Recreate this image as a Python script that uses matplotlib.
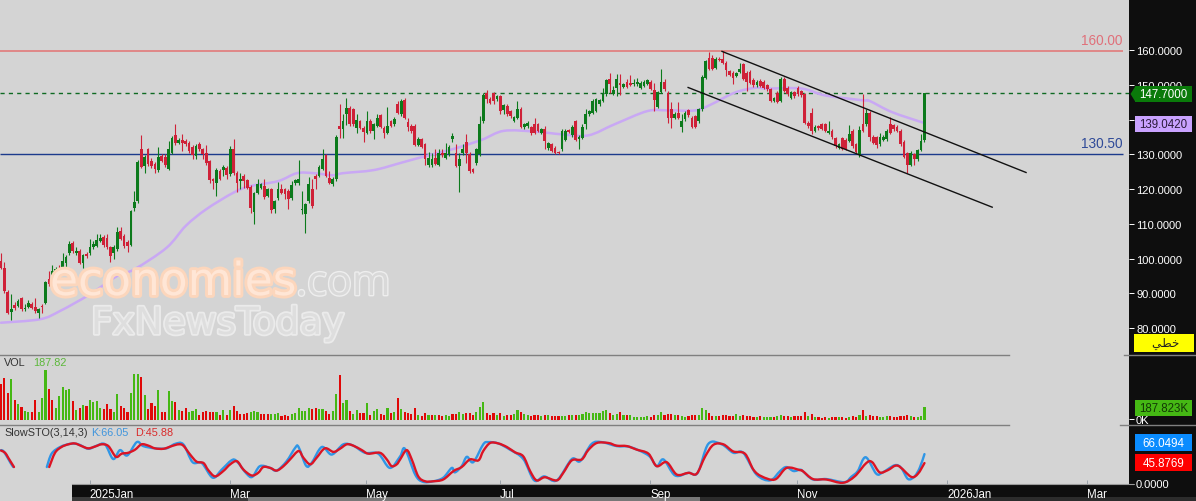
import numpy as np
import matplotlib
matplotlib.use('Agg')
import matplotlib.pyplot as plt
import matplotlib.patheffects as pe
from matplotlib.lines import Line2D
from matplotlib.patches import PathPatch, Polygon, Rectangle
from matplotlib.path import Path

opens = [99.3,97.4,90.4,84.6,86.5,86.3,88.7,85.4,86.1,86.8,
86.1,84.4,86.3,87.3,94.2,92.6,96,97,97.4,98.8,
101.5,104.6,101.5,102.2,98.8,101.2,101.5,103.2,103.7,105.1,
106.2,106,103.2,101.5,102.8,107.9,106.5,104.8,103.8,114.7,
116.5,131.6,126.7,131.5,128.1,127.2,125.5,129.6,129.4,125.9,
130.5,135.5,133.4,134.2,133.9,133.4,132.1,129.5,133.1,131.5,
130.5,128.1,122.8,121.9,125.2,125.5,126.2,124.3,131.6,124.7,
122.3,123.8,122.6,120.7,113.5,119,120.4,120.9,118,119.9,
114.2,117.5,119.9,119.9,119.5,117.5,121.7,121.7,113.9,112.7,
116.5,119.9,123.8,123.8,125.9,129.7,123.3,121.4,122.8,138.2,
137.2,141.6,143.5,143,137.7,139.6,137.7,136.3,139.6,136.8,
138.2,141.3,137.7,136.3,139.6,138.7,144.6,141.6,145.7,139.3,
138.2,138.2,132.7,134.4,132.9,126.9,126.9,129.1,127,130.5,
129.1,130,134.5,130.3,126.7,130.3,133.7,130.2,125.7,127.4,
130,139.6,147.8,146.1,147.6,145.9,146.8,142.7,144,142.5,
139.6,140.6,143.2,137.9,138.2,137.9,138.7,138.7,136.3,137.2,
131.8,132.9,132,130.7,131.5,134.2,137,135.5,139.6,134.5,
134.8,138.7,141.6,142,142.5,144.4,145.4,147.3,151.7,147.5,
149.2,150.7,149.5,150.9,150.7,150.2,150.2,149.2,149.7,150.4,
151,148.6,143.7,148.1,150.9,147.8,143,140.6,142,138,
140.1,142.8,140.6,141.1,139.6,143,152.1,157.9,157.9,155,
157.6,157.6,156.4,154,153.6,152.6,153.8,156,153.6,153.9,
151.5,149.9,151.2,151,149.9,148.8,145.4,147.8,145.4,151.8,
149.2,146.4,148,149.2,148.3,147.3,139.1,142,136.8,138.2,
138.7,138.7,136.3,136.8,134.6,132,134.6,134.2,133.9,136.8,
132.9,129.8,138.7,138.7,142,135.1,134.9,132.9,134.2,134.4,
138.7,138.4,138,136.8,133.7,130.3,127.1,130,128.6,131.3,
134.3]
highs = [101.7,99,91,89.7,87.5,88.3,89,86.8,88,87.5,
88.7,85.8,86.8,93.5,96.4,98,97.5,98,101.7,101,
105,105,103.2,102.7,101.3,102,105.5,105,107.2,107,
106.7,107.2,103.7,103.8,109.1,109,107,105.3,114,119.6,
128.3,135.5,129.8,132,129,127.7,132.2,130,130,133.9,
135.2,138.7,134.7,135.8,134.4,133.9,132.6,132.9,133.6,132,
132.7,128.5,123.2,126,125.7,127,126.7,132.4,134.5,125.2,
124.7,124.3,123,121.2,119.3,123,121.9,123,120.4,120.4,
117,122,121.4,120.3,120,122.3,123,128.3,119.6,116,
123.6,122.8,124.3,127,131.6,130.2,125.2,123.4,135.5,144.6,
141.6,146.4,144,143.4,141.6,140,138.2,142.5,140.3,139,
141.6,141.8,138.2,143.8,140,140.8,145.4,145.9,146.2,140.6,
138.7,138.7,135.1,134.8,133.3,130.7,130.5,131.5,131.5,131.5,
133.4,132.6,136.1,132.9,130.3,132.9,135.8,130.6,126.2,132,
141.1,147.8,148.6,146.5,148,147.2,147.2,144.6,144.4,142.9,
141.2,145.4,143.6,139,139.6,138.3,140.6,139.1,137.7,138.2,
133.6,133.3,132.4,131,137.2,137.2,137.4,138.4,140,135.5,
138.7,143.2,142.8,145.9,146.3,146.1,149.2,151.7,153.6,149.7,
153.1,153.1,150.6,151.6,152.8,151.8,152.1,151.1,151.4,151.8,
151.4,150.7,148.3,154.7,151.8,148.3,145.1,142.2,145.1,141.6,
142.4,143.2,141,141.5,143.4,152.8,157.2,159.5,158.8,158,
158,159.8,156.8,154.4,154,153.8,156.4,156.4,154,154.3,
151.9,151.4,151.6,151.4,150.3,149.2,146.6,148.2,152.2,152.4,
149.6,148.4,148.4,149.6,148.7,147.7,139.5,143.5,138.4,138.6,
139.1,139.1,139.6,137.2,135,133.3,135,134.6,138.4,137.2,
133.3,138.2,147.5,143.2,142.4,135.5,135.3,136.3,135.5,137.4,
140.9,138.8,138.4,137.2,134.1,130.7,130.9,130.4,131.7,135.8,
147.7]
lows = [96.9,90.1,84,82.3,85.3,85.9,85,85,85.8,85.5,
84.4,83,84.4,87,92,91.5,94,92,96.5,97.4,
101,101.7,101,98.3,97.4,100.2,101,102.7,103.2,104.7,
103.3,102.7,99,99.8,102.3,105.2,103,101.9,103.5,113.7,
116,126,124.6,126.8,126.2,124.6,125,127.7,126.5,125.5,
130,132.8,133,131,132.5,130.5,128.6,128.6,131,128.6,
127,121.9,120,118,122.5,123.8,122.8,123.9,124.2,119.2,
120,120.4,120,113.2,109.9,118.6,120,117.2,117.6,113.2,
113.2,117,118.5,117.1,114.4,117,121.3,121.3,112.7,107.5,
116,114.7,120,123.4,125.5,123.4,121.5,120.9,122.4,134.8,
134.8,138.4,138.2,138.2,136.3,137.2,133.6,135.8,136.3,134.4,
137.8,137.5,134.8,135.9,137.8,138.2,141.6,141.2,140.2,136.8,
136.3,132.3,132.3,131.8,126.9,126.5,126.5,126.9,126.6,129.3,
128.7,129.5,133.6,126.3,119.2,129.9,127.6,124.6,124.6,127.1,
129.6,139.2,144.9,144.5,144.4,145.5,141.6,141.6,141.2,140.6,
139.3,140.2,137.6,137.4,137.7,135.5,135.8,136.4,135.9,131.7,
131.4,130.6,130.1,130.2,131.1,133.8,136.1,135.1,133.8,131.5,
134.4,137.2,141.2,141.6,142.1,144,145,146.9,147.8,147.1,
146.8,147,149.1,149.1,149.6,149.8,149.8,148.8,149.3,150,
148.6,142.5,143.3,147.7,148.4,139.2,137.5,140.2,140.2,136.5,
139.7,140.9,137.6,137.6,139.2,142.6,151.7,154.3,154.3,154.6,
156.8,156,152.6,152.5,150.2,152.2,153.4,151.4,148.3,150.3,
149.5,149.5,149.3,148.8,148.4,145,145,144.7,145,147.9,
146.9,146,146.4,146.9,146.7,138.7,137.7,135.8,136.4,137.1,
137,136.4,135.9,134.5,132,131.6,131.3,131.3,133.5,132,
130.4,129.4,136.4,138.3,133.9,133,132,132.5,133.8,134,
135.9,136.8,136.5,132.5,129,124.7,126.7,127.1,128.2,130.9,
133.5]
closes = [97.4,90.6,84.4,85.6,85.8,87.8,85.4,85.8,87.1,85.8,
84.9,85.4,86,93.2,92.6,96.4,97,93.5,99.3,100.5,
104.1,102.2,102.2,98.8,100.9,100.7,103.2,104.1,105.4,106,
103.8,103.2,100.7,103.3,107.6,105.7,103.6,103.6,113.6,116.3,
127.9,126.5,129.4,127.2,126.7,125.9,129.3,128.1,127,131.5,
134.8,133.2,134.2,133.4,132.9,131,129.7,132.4,131.5,130,
127.4,122.6,122.3,125.5,123,126.5,124,131.6,124.7,121.9,
122.8,122.3,120.4,114.7,118.8,121.4,121.4,117.7,119.9,114,
116.6,119.9,119,118.5,117.1,121.1,122.6,122.8,114.2,115.6,
121.4,115.1,122.8,126.5,128.8,123.8,121.9,123,135.1,137.2,
139.6,143.5,138.7,138.7,139.9,137.7,136.5,139.6,136.8,138.7,
140.6,138,136.3,138.2,138.2,140.3,142,145.4,140.6,138,
136.9,132.7,134.5,132.2,128.6,129.1,128.8,127.3,130.3,129.7,
130.5,132.2,135.3,126.7,128.6,131.5,130.3,125.2,125,131.6,
138.7,147.1,145.9,144.9,145.4,146.8,142.5,144.2,141.6,141.1,
140.8,143,138,138.7,139,136.1,136.3,136.8,137.2,133.9,
133.2,131,130.5,130.5,136.8,136.8,136.5,138,134.2,135.1,
138,141.8,142.4,145.4,145.9,145.7,147.3,151.5,150.2,148.6,
151.7,149.9,150.2,149.5,150,150.7,151,150.7,151,151.5,
149,145.7,148.1,150.9,148.8,140.6,140.6,141.8,140.6,139.6,
142,141.3,138,138,143,152.4,156.9,154.7,154.7,157.6,
157.2,156.4,154.3,152.9,152.1,153.4,154.7,151.8,151,150.7,
149.9,151,149.7,149.2,148.8,145.4,146.2,145.1,151.8,148.3,
147.3,148,146.8,147.3,147.1,139.1,138.2,136.8,138,137.5,
137.4,136.8,136.8,134.9,132.4,132.9,131.7,131.7,135.8,132.4,
130.8,137,136.8,142,134.9,133.4,132.7,135.1,135.1,136.8,
136.3,137.2,136.9,132.9,129.4,127.1,130.5,128.6,131.3,133.9,
147.7]

volumes = [518,605,389,590,288,230,192,125,110,120,
288,120,317,725,446,288,173,350,470,437,
446,269,144,168,216,206,288,264,274,173,
154,230,158,110,374,206,173,115,389,662,
662,619,360,158,245,206,432,115,110,413,
278,254,144,130,168,120,125,158,77,110,
130,110,115,120,77,149,77,144,202,125,
86,86,101,110,125,110,82,86,82,91,
86,101,62,67,62,86,96,173,125,134,
168,163,168,158,158,134,86,134,374,648,
245,288,130,86,144,96,106,245,77,134,
158,86,77,173,96,110,317,158,110,101,
86,173,72,62,96,77,72,72,72,53,
72,62,86,91,110,91,101,101,77,120,
182,264,101,77,101,77,101,62,67,67,
86,144,110,86,77,62,72,67,58,72,
67,58,58,53,62,62,67,77,77,67,
82,120,101,106,106,96,125,149,101,72,
91,115,72,67,72,48,48,48,48,58,
48,72,67,115,77,86,86,67,72,58,
48,58,72,77,67,173,149,101,62,62,
53,67,67,53,62,82,62,67,62,58,
48,48,53,48,48,48,48,62,67,58,
62,48,58,53,53,110,62,86,43,38,
34,43,34,48,48,43,43,34,43,62,
48,72,149,62,72,53,53,43,48,62,
62,48,48,53,62,72,53,43,38,53,
187.82]
vol_dirs = ("rrrgrgrggr" "rgggrrgggg" "grgrgrgggg" "rrrggrrrgg" "grgrrrgrrg"
            "grgrrgggrr" "rrrgrgrgrr" "rrrgggrrrg" "ggrrrggggg" "grrggrrggr"
            "ggrggrrgrg" "grrgrgrgrr" "rrgrrgrgrr" "ggrrggrrrg" "ggrrrgrgrr"
            "ggrggrrrgr" "grrrggrgrg" "ggggggggrg" "grgrgggggg" "rrggrrrgrg"
            "grrrgggrrg" "rrrrrggrrr" "rgrgggrggr" "rgrrrrgrgr" "rrgrrgrrgr"
            "rgrgrrrggg" "rrrrrrgrgg" "g")

ma_idx = [0,11.4,17.3,26,34,39,48.4,54,60,68,73,81,86.5,91.5,97,100,109,117,124,132,
          140.5,147,156,164,171.7,179.4,189,195,203,207.6,214.5,220.5,224,234,241,252,254,260.5,270]
ma_vals = [81.5,82.5,84.9,89.7,95,96.9,103.1,109.4,114.2,119,120.9,122.3,124.6,124.6,124,124.6,125.5,127.6,129.5,131.5,
           134.2,136.8,136.6,135.8,135.5,138.7,142.5,142.7,142.7,144.4,147.8,149.2,149,149,147,145.6,145.4,142.2,139.04]

k_idx = [0,0.9,2.8,3.6,np.nan,13.4,14.8,17.3,20.2,22.6,25.5,28,30.4,32.8,34.8,36.9,39.7,41.6,45,48.4,50.9,53.3,56,58.7,61.9,64.5,
         67.4,68.9,71.8,73.5,75.7,78.7,80.6,83.5,86,87,89.2,90.8,93.8,96.7,100.1,103,106.4,110.3,113.7,116.7,
         118.1,121.1,123.3,126.4,129.3,131.8,132.7,134.7,136.2,138.1,141,142.5,145.4,148.8,152.7,155.9,158.8,162.5,166.9,169.3,172.7,175.6,
         180,183.9,189.3,191.7,193.7,197.1,201,203.7,206.8,210.7,214.1,217,220.9,224.9,227.8,229.6,231.7,233.6,
         234.4,237.4,241.3,246.6,248.6,250.5,252.8,255.9,257.8,261.3,263.2,265.2,267.1,268.6,270]
k_vals = [75,71,46,37,np.nan,37,67,82,89,88,78,85,88,55,75,63,93,84,79,79,89,88,48,46,13,31,
          52,50,22,15,39,35,29,50,80,82,40,46,82,65,88,85,69,67,35,61,
          78,20,4,5,13,35,25,39,60,48,88,93,90,76,55,7,16,7,55,50,89,93,
          84,82,63,39,54,18,24,24,89,88,69,69,20,7,28,37,28,31,
          28,9,10,3,15,28,59,22,25,41,35,10,16,35,66.05]
d_idx = [0,1.2,2.1,3.8,np.nan,14.1,15.8,17.7,19.7,21.6,23.6,25.5,27.5,29.4,31.4,33.6,35.3,37.2,39.2,41.1,43.1,45,47.5,49.9,51.9,53.3,
         55.3,57.2,59.2,60.6,62.6,65,67,69,70.9,73.3,75.2,76.7,78.7,80.6,82.6,84.5,87,88.4,90.4,92.3,94.7,97.2,99.1,101.1,103,105.5,107.4,
         110.8,112.8,114.2,115.7,116.7,118.6,120.1,122,124,126.4,129.3,132.3,134.7,137.1,139.6,141,143,145.4,147.9,150.3,152.7,154.7,156.6,
         159,162.5,164.4,166.9,169.8,171.7,174.2,177.6,180,183,185.9,189.3,191.7,194.6,197.6,201,203.4,205.9,208.3,211.2,214.1,217.5,220,222.4,226.3,229.7,233.6,
         234.4,237.4,241.3,246.1,249.6,253,254.7,256.9,259.3,262.2,266.1,268.1,270]
d_vals = [74,69,58,37,np.nan,37,69,82,88,90,84,79,83,88,84,60,67,69,76,88,85,79,78,84,88,85,
          65,49,46,30,16,28,43,50,31,18,24,37,35,29,39,54,73,58,43,58,79,71,78,88,85,75,67,
          69,54,39,43,54,75,54,16,5,5,9,28,37,54,52,73,91,90,82,70,61,28,7,
          14,7,24,52,54,75,91,91,85,84,76,67,39,48,20,24,22,61,87,88,72,67,31,16,9,35,30,
          28,10,9,1.5,16,46,48,25,30,40,15,22,45.88]

upper_idx = [210.8,299.7]
upper_vals = [159.7,124.8]
lower_idx = [200.9,289.8]
lower_vals = [149.3,114.8]

price_ticks = [80,90,100,110,120,130,140,150,160]
month_idx = [26,67,106.7,145.9,189.8,232.7,276.6,317.5]
month_labels = ['2025Jan','Mar','May','Jul','Sep','Nov','2026Jan','Mar']

W, H = 1196, 502
BG = '#d4d4d4'
STRIP = '#0e0e0e'
UP = '#0c7a1c'
DOWN = '#cf2138'
plt.rcParams['font.family'] = ['Liberation Sans', 'DejaVu Sans']


def fx(x):
    return x / W


def fy(y):
    return 1 - y / H


def panel(top, bottom):
    ax = fig.add_axes([0, fy(bottom), 1129 / W, (bottom - top) / H])
    ax.patch.set_visible(False)
    for s in ax.spines.values():
        s.set_visible(False)
    ax.set_xlim(-0.292, 329.8)
    ax.yaxis.tick_right()
    ax.tick_params(axis='y', colors='white', length=3.6, width=0.7, pad=1.5, labelsize=8)
    ax.tick_params(axis='x', bottom=False, labelbottom=False)
    return ax


def box(x0, y0, x1, y1, color, z=2):
    fig.add_artist(Rectangle((fx(x0), fy(y1)), (x1 - x0) / W, (y1 - y0) / H, transform=fig.transFigure,
                             facecolor=color, edgecolor='none', zorder=z))


def tag(y0, y1, color, label, text_color):
    box(1135, y0, 1192, y1, color)
    fig.text(fx(1163.5), fy((y0 + y1) / 2 + 0.3), label, color=text_color, fontsize=8.3, ha='center', va='center', zorder=3)


def curve(ax, xs, ys, **kw):
    # rounded line through the read points, one bezier per gap, NaN breaks the line
    xs = np.array(xs, float)
    ys = np.array(ys, float)
    gaps = np.flatnonzero(np.isnan(xs))
    for seg in np.split(np.arange(len(xs)), gaps):
        seg = seg[~np.isnan(xs[seg])]
        p = np.column_stack([xs[seg], ys[seg]])
        verts = [p[0]]
        codes = [Path.MOVETO]
        for i in range(len(p) - 1):
            a = p[max(i - 1, 0)]
            d = p[min(i + 2, len(p) - 1)]
            verts += [p[i] + (p[i + 1] - a) / 6, p[i + 1] - (d - p[i]) / 6, p[i + 1]]
            codes += [Path.CURVE4] * 3
        ax.add_patch(PathPatch(Path(verts, codes), fill=False, capstyle='round', joinstyle='round', **kw))


fig = plt.figure(figsize=(W / 100, H / 100), dpi=100, facecolor=BG)

# black strips sit behind the panels
box(1129, 0, W, H, STRIP, z=-1)
box(72, 485, 1129, 498, STRIP, z=-1)
box(72, 498, 248, H, '#3a3a3a', z=-1)
box(248, 498, 700, H, '#777777', z=-1)
box(700, 498, W, H, '#2c2c2c', z=-1)
fig.add_artist(Line2D([fx(72), fx(1133)], [fy(484.7), fy(484.7)], color='#9a9a9a', lw=0.8, zorder=1))

for yy, spans in ((356, [(0, 1009), (1124, W)]), (426, [(0, 1009), (1120, W)])):
    for a, b in spans:
        fig.add_artist(Line2D([fx(a), fx(b)], [fy(yy), fy(yy)], color='#808080', lw=1.0, zorder=1))

# price panel
ax = panel(0, 356)
ax.set_ylim(72.2, 174.8)
x = np.arange(len(closes))
o = np.array(opens)
c = np.array(closes)
colors = [UP if b >= a else DOWN for a, b in zip(opens, closes)]
ax.hlines(159.8, -0.3, 328, color='#e27a7a', lw=1.2, zorder=1)
ax.hlines(130.2, -0.3, 328, color='#1c3a8c', lw=1.0, zorder=1)
ax.plot([-0.3, 329.8], [147.6, 147.6], color='#0e6a22', lw=1.0, dashes=(3.0, 3.0), zorder=1)
curve(ax, ma_idx, ma_vals, edgecolor='#c9a8f4', lw=1.8, zorder=2)
ax.vlines(x, lows, highs, colors=colors, lw=0.8, zorder=3)
ax.bar(x, np.abs(c - o), bottom=np.minimum(o, c), width=0.8, color=colors, linewidth=0, zorder=3)
ax.plot(upper_idx, upper_vals, color='#111111', lw=1.0, zorder=4)
ax.plot(lower_idx, lower_vals, color='#111111', lw=1.0, zorder=4)
ax.text(328, 161.0, '160.00', color='#e0707a', fontsize=9.8, ha='right', va='bottom')
ax.text(328, 131.3, '130.50', color='#2f4a98', fontsize=9.8, ha='right', va='bottom')
ax.set_yticks(price_ticks)
# the 139 tag hides the 140 label in the reference
ax.set_yticklabels(['' if t == 140 else '%.4f' % t for t in price_ticks])

# volume panel
vax = panel(356, 426)
vax.set_ylim(-72, 936)
vol_x = np.arange(len(volumes))
vol_colors = ['#45b814' if d == 'g' else '#e00808' for d in vol_dirs]
vax.bar(vol_x, volumes, width=0.62, color=vol_colors, linewidth=0)
vax.set_yticks([20])
vax.set_yticklabels(['0K'])
fig.text(fx(4), fy(366), 'VOL', color='#333333', fontsize=7.8)
fig.text(fx(33), fy(366), '187.82', color='#5cb83a', fontsize=7.8)

# stochastic panel
sax = panel(426, 484.5)
sax.set_ylim(0, 131.4)
curve(sax, k_idx, k_vals, edgecolor='#2f96e6', lw=1.7)
curve(sax, d_idx, d_vals, edgecolor='#dc1424', lw=1.7)
sax.set_yticks([0])
sax.set_yticklabels(['0.0000'])
sax.set_xticks(month_idx)
sax.set_xticklabels(month_labels, ha='left', fontsize=8.3)
sax.tick_params(axis='x', bottom=True, labelbottom=True, direction='in', length=3, width=0.7,
                color='#9aa2aa', labelcolor='white', pad=3)
fig.text(fx(4), fy(436), 'SlowSTO(3,14,3)', color='#333333', fontsize=7.8)
fig.text(fx(91), fy(436), 'K:66.05', color='#3f95dd', fontsize=7.8)
fig.text(fx(135), fy(436), 'D:45.88', color='#d92a2a', fontsize=7.8)

# value tags on the price strip
tag(87, 103, '#0a7a0a', '147.7000', 'white')
fig.add_artist(Polygon([(fx(1135.5), fy(87)), (fx(1135.5), fy(103)), (fx(1130.5), fy(95))], closed=True,
                       transform=fig.transFigure, facecolor='#0a7a0a', edgecolor='none', zorder=2))
tag(117, 133, '#c9a2ff', '139.0420', '#2a1a3a')
tag(401, 417, '#45b814', '187.823K', '#123a05')
tag(435, 452, '#0a8cff', '66.0494', 'white')
tag(455, 472, '#ff0000', '45.8769', 'white')
box(1134, 335, 1194, 353, '#ffff00')
# matplotlib does not shape Arabic, so this is خطي in joined forms and visual order
fig.text(fx(1165), fy(344), '\ufef2\ufec2\ufea7', color='#222222', fontsize=8.5, ha='center', va='center',
         family='DejaVu Sans', zorder=3)

# watermark over the chart
fig.text(fx(50), fy(296), 'economies', family='DejaVu Sans', fontsize=32.8, color='#ffe6d6', zorder=5,
         path_effects=[pe.withStroke(linewidth=4.2, foreground='#fcd6bc')])
fig.text(fx(296), fy(296), '.com', family='Open Sans', fontsize=30, color='#d9d9d9', zorder=5,
         path_effects=[pe.withStroke(linewidth=2.0, foreground='#eeeeee')])
fig.text(fx(91), fy(335), 'FxNewsToday', family='DejaVu Sans', fontsize=27, color='#dedede', zorder=5,
         path_effects=[pe.withStroke(linewidth=2.6, foreground='#ebebeb')])

fig.savefig('out.png', dpi=100, facecolor=fig.get_facecolor())
